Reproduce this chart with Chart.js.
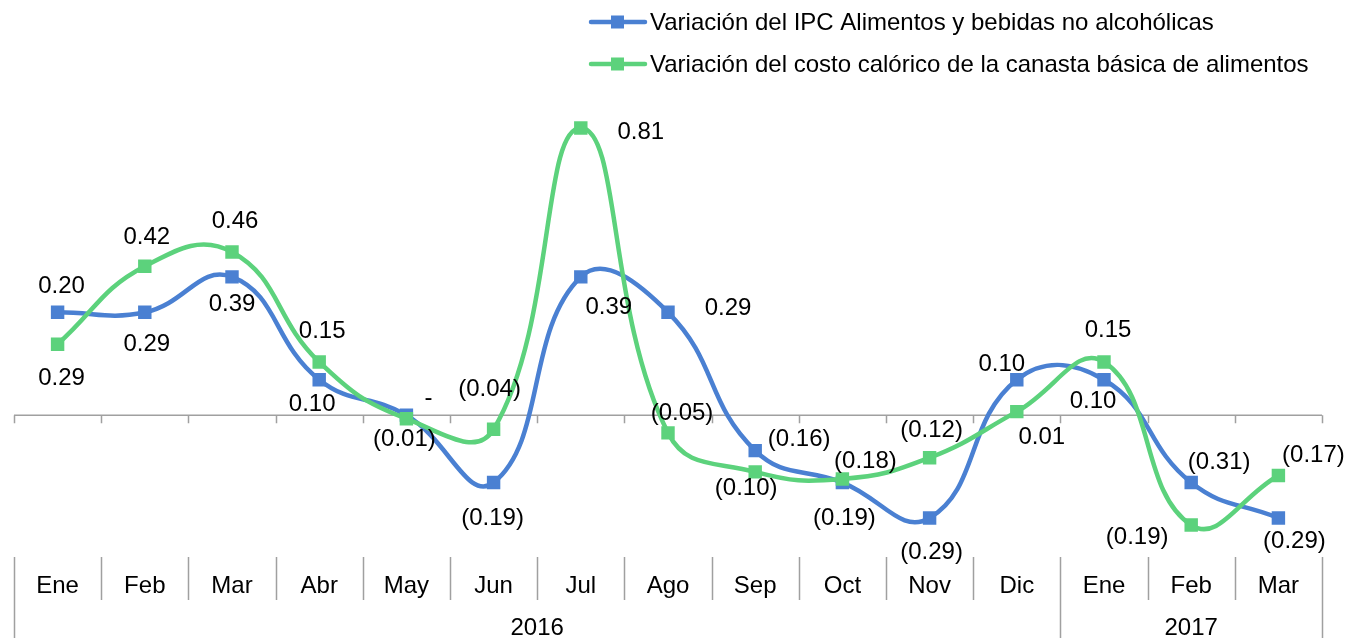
<!DOCTYPE html>
<html>
<head>
<meta charset="utf-8">
<script src="https://cdn.jsdelivr.net/npm/chart.js@4"></script>
<style>
  html, body { margin: 0; padding: 0; background: #fff; }
  #wrap { width: 1354px; height: 638px; position: relative; }
</style>
</head>
<body>
<div id="wrap"><canvas id="c" width="1354" height="638"></canvas></div>
<script>
// ---- Data ----
const months = ["Ene","Feb","Mar","Abr","May","Jun","Jul","Ago","Sep","Oct","Nov","Dic","Ene","Feb","Mar"];
const years = [{label: "2016", from: 0, to: 11}, {label: "2017", from: 12, to: 14}];
const ipcSeriesName = "Variación del IPC Alimentos y bebidas no alcohólicas";
const canastaSeriesName = "Variación del costo calórico de la canasta básica de alimentos";
const ipcValues = [0.29, 0.29, 0.39, 0.10, 0.00, -0.19, 0.39, 0.29, -0.10, -0.19, -0.29, 0.10, 0.10, -0.19, -0.29];
const canastaValues = [0.20, 0.42, 0.46, 0.15, -0.01, -0.04, 0.81, -0.05, -0.16, -0.18, -0.12, 0.01, 0.15, -0.31, -0.17];

// ---- Styles ----
const BLUE = "#4a80d2";
const GREEN = "#5cd27c";
const FONT = "24px 'Liberation Sans', Arial, sans-serif";
// label offsets (px) relative to each point
const ipcLabelOffsets = [[4,66],[2,32],[0,28],[-7,25],[22,-17],[-1,36],[28,31],[60,-4],[-9,38],[2,36],[2,34],[-15,-15],[-11,22],[-54,55],[16,23]];
const canastaLabelOffsets = [[4,-58],[2,-29],[3,-31],[3,-31],[-2,21],[-4,-40],[60,4],[14,-20],[44,-33],[23,-18],[2,-27],[25,26],[4,-32],[28,-63],[35,-20]];

function fmt(v) {
  if (Math.abs(v) < 0.0001) return "-";
  const s = Math.abs(v).toFixed(2);
  return v < 0 ? "(" + s + ")" : s;
}

const decorPlugin = {
  id: 'decor',
  beforeDatasetsDraw(chart) {
    const ctx = chart.ctx, x = chart.scales.x, y = chart.scales.y;
    const n = months.length;
    const step = (x.getPixelForValue(1) - x.getPixelForValue(0));
    const left = x.getPixelForValue(0) - step / 2;
    const y0 = y.getPixelForValue(0);
    ctx.save();
    ctx.strokeStyle = "#a0a0a0";
    ctx.lineWidth = 1.5;
    ctx.beginPath();
    ctx.moveTo(left, y0);
    ctx.lineTo(left + step * n, y0);
    for (let i = 0; i <= n; i++) {
      const px = Math.round(left + step * i) + 0.5;
      ctx.moveTo(px, y0);
      ctx.lineTo(px, y0 + 8);
    }
    ctx.stroke();
    ctx.restore();
  },
  afterDatasetsDraw(chart) {
    const ctx = chart.ctx, x = chart.scales.x;
    const n = months.length;
    const step = (x.getPixelForValue(1) - x.getPixelForValue(0));
    const left = x.getPixelForValue(0) - step / 2;
    const top = chart.chartArea.bottom;
    ctx.save();
    // table lines
    ctx.strokeStyle = "#a0a0a0";
    ctx.lineWidth = 1.5;
    ctx.beginPath();
    const yearEdges = new Set();
    years.forEach(yr => { yearEdges.add(yr.from); yearEdges.add(yr.to + 1); });
    for (let i = 0; i <= n; i++) {
      const px = Math.round(left + step * i) + 0.5;
      ctx.moveTo(px, top);
      ctx.lineTo(px, yearEdges.has(i) ? 638 : 600);
    }
    ctx.stroke();
    // text
    ctx.fillStyle = "#000";
    ctx.font = FONT;
    ctx.textAlign = "center";
    ctx.textBaseline = "middle";
    months.forEach((m, i) => ctx.fillText(m, x.getPixelForValue(i), 586));
    years.forEach(yr => {
      const cx = (x.getPixelForValue(yr.from) + x.getPixelForValue(yr.to)) / 2;
      ctx.fillText(yr.label, cx, 628);
    });
    // data labels
    const drawLabels = (dsIndex, vals, offs) => {
      const meta = chart.getDatasetMeta(dsIndex);
      meta.data.forEach((pt, i) => {
        ctx.fillText(fmt(vals[i]), pt.x + offs[i][0], pt.y + offs[i][1]);
      });
    };
    drawLabels(0, ipcValues, ipcLabelOffsets);
    drawLabels(1, canastaValues, canastaLabelOffsets);
    // legend
    const items = [[BLUE, ipcSeriesName, 22], [GREEN, canastaSeriesName, 64]];
    items.forEach(([col, txt, ly]) => {
      ctx.strokeStyle = col;
      ctx.lineWidth = 4.5;
      ctx.lineCap = "round";
      ctx.beginPath();
      ctx.moveTo(591, ly);
      ctx.lineTo(645, ly);
      ctx.stroke();
      ctx.fillStyle = col;
      ctx.fillRect(611, ly - 6.5, 13, 13);
      ctx.fillStyle = "#000";
      ctx.textAlign = "left";
      ctx.fillText(txt, 650, ly + 1);
    });
    ctx.restore();
  }
};

new Chart(document.getElementById("c"), {
  type: "line",
  data: {
    labels: months,
    datasets: [
      {
        label: ipcSeriesName, data: ipcValues, borderColor: BLUE, backgroundColor: BLUE,
        borderWidth: 4.5, tension: 0.45, pointStyle: "rect", pointRadius: 9.5, pointHoverRadius: 9.5,
        pointBorderWidth: 0, order: 1, fill: false
      },
      {
        label: canastaSeriesName, data: canastaValues, borderColor: GREEN, backgroundColor: GREEN,
        borderWidth: 4.5, tension: 0.45, pointStyle: "rect", pointRadius: 9.5, pointHoverRadius: 9.5,
        pointBorderWidth: 0, order: 0, fill: false
      }
    ]
  },
  options: {
    responsive: false,
    animation: false,
    events: [],
    layout: { padding: { left: 14, right: 32, top: 96, bottom: 81 } },
    plugins: { legend: { display: false }, tooltip: { enabled: false } },
    scales: {
      x: { type: "category", offset: true, display: false },
      y: { min: -0.4, max: 0.9, display: false }
    }
  },
  plugins: [decorPlugin]
});
</script>
</body>
</html>
